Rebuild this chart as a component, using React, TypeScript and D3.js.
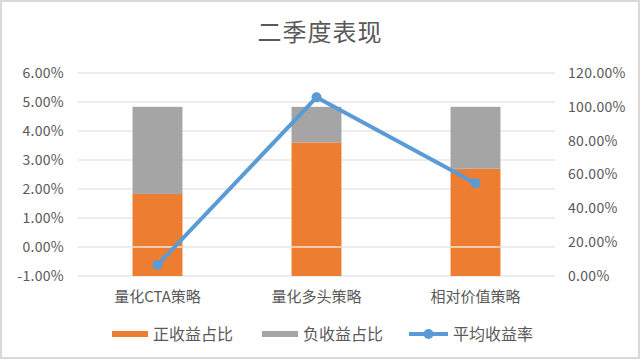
import React, { useEffect, useRef } from 'react';
import * as d3 from 'd3';

// chart data
const categories = ['量化CTA策略', '量化多头策略', '相对价值策略'];
const positiveShare = [48.5, 79.0, 63.4]; // 正收益占比 (%), right axis
const negativeShare = [51.5, 21.0, 36.6]; // 负收益占比 (%), right axis
const avgReturn = [-0.62, 5.16, 2.2]; // 平均收益率 (%), left axis
const leftTicks = [-1, 0, 1, 2, 3, 4, 5, 6];
const rightTicks = [0, 20, 40, 60, 80, 100, 120];
const seriesNames = ['正收益占比', '负收益占比', '平均收益率'];

const ORANGE = '#ED7D31';
const GRAY = '#A5A5A5';
const BLUE = '#5B9BD5';
const TEXT = '#595959';
const FONT = '"Noto Sans CJK SC", "Noto Sans", sans-serif';

const App: React.FC = () => {
  const svgRef = useRef<SVGSVGElement | null>(null);

  useEffect(() => {
    if (!svgRef.current) return;
    d3.select(svgRef.current).selectAll('*').remove();

    const width = 641;
    const height = 361;
    const plot = { left: 78, right: 555, top: 73, bottom: 276 };

    const svg = d3.select(svgRef.current)
      .attr('width', width)
      .attr('height', height)
      .style('font-family', FONT);

    // background + border
    svg.append('rect')
      .attr('x', 1).attr('y', 1)
      .attr('width', width - 3).attr('height', height - 4)
      .attr('fill', '#fff')
      .attr('stroke', '#D9D9D9')
      .attr('stroke-width', 2);

    // title
    svg.append('text')
      .attr('x', 320)
      .attr('y', 41)
      .attr('text-anchor', 'middle')
      .style('font-size', '24px')
      .style('letter-spacing', '1px')
      .attr('fill', TEXT)
      .text('二季度表现');

    // scales
    const x = d3.scaleBand()
      .domain(categories)
      .range([plot.left, plot.right])
      .paddingInner(0.686)
      .paddingOuter(0.343);
    const yLeft = d3.scaleLinear().domain([-1, 6]).range([plot.bottom, plot.top]);
    const yRight = d3.scaleLinear().domain([0, 120]).range([plot.bottom, plot.top]);

    // gridlines
    svg.append('g')
      .selectAll('line')
      .data(leftTicks)
      .enter()
      .append('line')
      .attr('x1', plot.left)
      .attr('x2', plot.right)
      .attr('y1', d => yLeft(d))
      .attr('y2', d => yLeft(d))
      .attr('stroke', '#D9D9D9')
      .attr('stroke-width', 1.2);

    // left axis labels
    svg.append('g')
      .selectAll('text')
      .data(leftTicks)
      .enter()
      .append('text')
      .attr('x', 64)
      .attr('y', d => yLeft(d))
      .attr('dy', '0.35em')
      .attr('text-anchor', 'end')
      .style('font-size', '14px')
      .style('letter-spacing', '0.3px')
      .attr('fill', TEXT)
      .text(d => `${d.toFixed(2)}%`);

    // right axis labels
    svg.append('g')
      .selectAll('text')
      .data(rightTicks)
      .enter()
      .append('text')
      .attr('x', 568)
      .attr('y', d => yRight(d))
      .attr('dy', '0.35em')
      .attr('text-anchor', 'start')
      .style('font-size', '14px')
      .style('letter-spacing', '0.3px')
      .attr('fill', TEXT)
      .text(d => `${d.toFixed(2)}%`);

    // stacked bars on right axis
    const rows = categories.map((c, i) => ({ c, pos: positiveShare[i], neg: negativeShare[i] }));
    const stack = d3.stack<any>().keys(['pos', 'neg']);
    const stacked = stack(rows);
    const colors = [ORANGE, GRAY];

    stacked.forEach((layer, li) => {
      svg.append('g')
        .selectAll('rect')
        .data(layer)
        .enter()
        .append('rect')
        .attr('x', d => x(d.data.c) as number)
        .attr('width', x.bandwidth())
        .attr('y', d => yRight(d[1]))
        .attr('height', d => yRight(d[0]) - yRight(d[1]))
        .attr('fill', colors[li]);
    });

    // white axis line at left-axis zero, drawn over the bars
    svg.append('g')
      .selectAll('line')
      .data(categories)
      .enter()
      .append('line')
      .attr('x1', d => x(d) as number)
      .attr('x2', d => (x(d) as number) + x.bandwidth())
      .attr('y1', yLeft(0))
      .attr('y2', yLeft(0))
      .attr('stroke', '#fff')
      .attr('stroke-width', 1.5)
      .attr('opacity', 0.8);

    // category labels
    svg.append('g')
      .selectAll('text')
      .data(categories)
      .enter()
      .append('text')
      .attr('x', d => (x(d) as number) + x.bandwidth() / 2)
      .attr('y', 297)
      .attr('dy', '0.35em')
      .attr('text-anchor', 'middle')
      .style('font-size', '15px')
      .attr('fill', TEXT)
      .text(d => d);

    // average return line on left axis
    const cx = (c: string) => (x(c) as number) + x.bandwidth() / 2;
    const line = d3.line<number>()
      .x((_, i) => cx(categories[i]))
      .y(d => yLeft(d));

    svg.append('path')
      .datum(avgReturn)
      .attr('d', line)
      .attr('fill', 'none')
      .attr('stroke', BLUE)
      .attr('stroke-width', 4)
      .attr('stroke-linejoin', 'round');

    svg.append('g')
      .selectAll('circle')
      .data(avgReturn)
      .enter()
      .append('circle')
      .attr('cx', (_, i) => cx(categories[i]))
      .attr('cy', d => yLeft(d))
      .attr('r', 5)
      .attr('fill', BLUE);

    // legend
    const legendY = 334;
    const legendItems = [
      { name: seriesNames[0], x: 112, type: 'bar', color: ORANGE },
      { name: seriesNames[1], x: 262, type: 'bar', color: GRAY },
      { name: seriesNames[2], x: 409, type: 'line', color: BLUE },
    ];
    legendItems.forEach(item => {
      const g = svg.append('g');
      if (item.type === 'bar') {
        g.append('rect')
          .attr('x', item.x)
          .attr('y', legendY - 3)
          .attr('width', 36)
          .attr('height', 6)
          .attr('fill', item.color);
        g.append('text')
          .attr('x', item.x + 41)
          .attr('y', legendY)
          .attr('dy', '0.35em')
          .style('font-size', '16px')
          .attr('fill', TEXT)
          .text(item.name);
      } else {
        g.append('line')
          .attr('x1', item.x)
          .attr('x2', item.x + 39)
          .attr('y1', legendY)
          .attr('y2', legendY)
          .attr('stroke', item.color)
          .attr('stroke-width', 4);
        g.append('circle')
          .attr('cx', item.x + 19.5)
          .attr('cy', legendY)
          .attr('r', 5)
          .attr('fill', item.color);
        g.append('text')
          .attr('x', item.x + 44)
          .attr('y', legendY)
          .attr('dy', '0.35em')
          .style('font-size', '16px')
          .attr('fill', TEXT)
          .text(item.name);
      }
    });
  }, []);

  return (
    <svg ref={svgRef} style={{ position: 'absolute', left: 0, top: 0 }}></svg>
  );
};

export default App;
